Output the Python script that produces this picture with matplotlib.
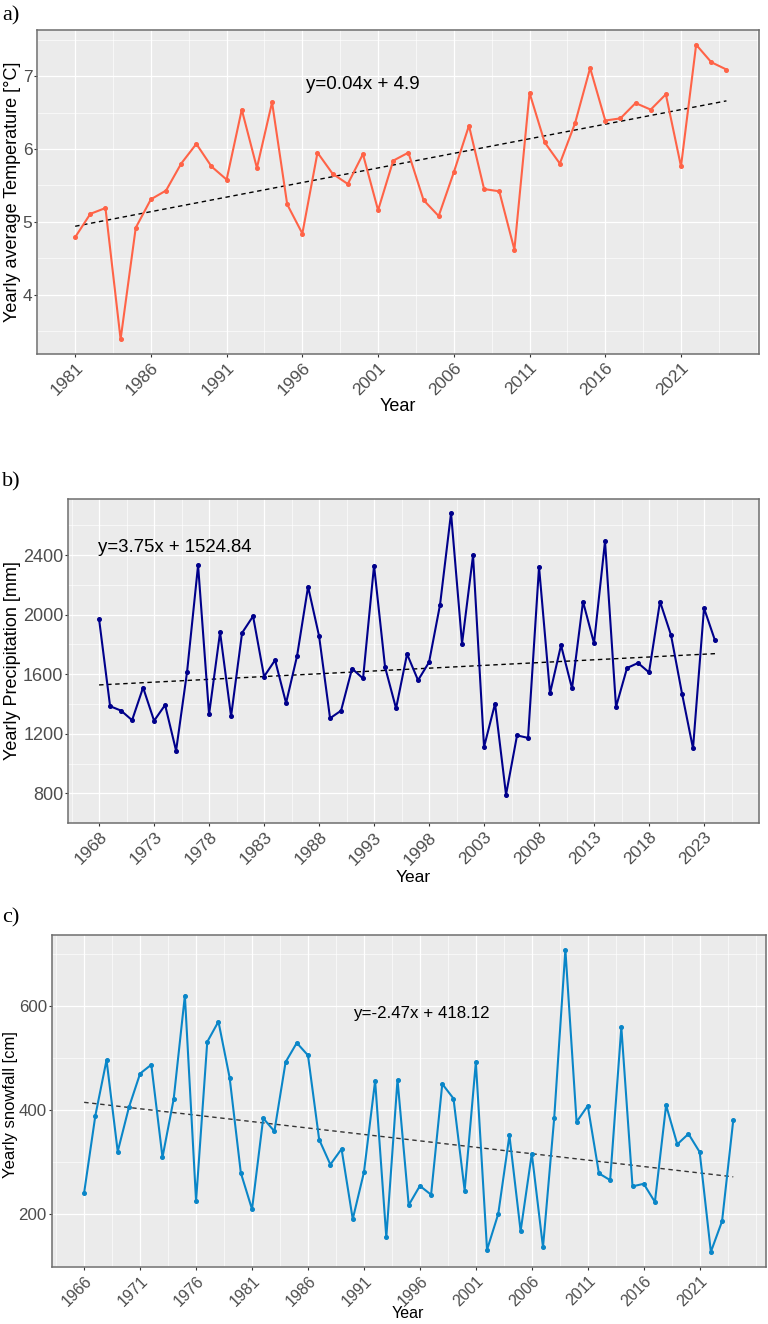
import matplotlib
matplotlib.use("Agg")
import matplotlib.pyplot as plt
import numpy as np

# ---------------- data ----------------
temp_years = list(range(1981, 2025))
temp_values = [4.79, 5.11, 5.19, 3.39, 4.92, 5.31, 5.43, 5.80, 6.07, 5.76,
               5.58, 6.54, 5.74, 6.64, 5.24, 4.84, 5.95, 5.66, 5.52, 5.93,
               5.16, 5.84, 5.95, 5.30, 5.08, 5.68, 6.32, 5.45, 5.42, 4.62,
               6.77, 6.09, 5.80, 6.35, 7.11, 6.39, 6.42, 6.63, 6.54, 6.75,
               5.76, 7.43, 7.19, 7.09]
temp_slope, temp_intercept = 0.04, 4.9
temp_ticks = [1981, 1986, 1991, 1996, 2001, 2006, 2011, 2016, 2021]

prec_years = list(range(1968, 2025))
prec_values = [1969, 1386, 1356, 1292, 1511, 1288, 1394, 1087, 1617, 2332,
               1331, 1882, 1318, 1878, 1990, 1585, 1695, 1407, 1723, 2188,
               1857, 1305, 1356, 1638, 1572, 2330, 1649, 1371, 1736, 1560,
               1681, 2067, 2682, 1806, 2398, 1112, 1403, 792, 1190, 1173,
               2321, 1473, 1795, 1505, 2088, 1808, 2493, 1381, 1642, 1676,
               1613, 2088, 1863, 1471, 1103, 2044, 1827]
prec_slope, prec_intercept = 3.75, 1524.84
prec_ticks = [1968, 1973, 1978, 1983, 1988, 1993, 1998, 2003, 2008, 2013, 2018, 2023]

snow_years = list(range(1966, 2025))
snow_values = [242, 390, 497, 321, 406, 471, 488, 310, 422, 621,
               226, 532, 571, 463, 280, 210, 385, 360, 493, 530,
               506, 344, 296, 326, 191, 281, 457, 156, 459, 218,
               255, 238, 451, 423, 246, 493, 132, 201, 352, 168,
               317, 137, 385, 709, 378, 409, 279, 266, 560, 254,
               259, 224, 410, 335, 355, 320, 128, 187, 381]
snow_slope, snow_intercept = -2.47, 418.12
snow_ticks = [1966, 1971, 1976, 1981, 1986, 1991, 1996, 2001, 2006, 2011, 2016, 2021]

# ---------------- style ----------------
W, H = 768, 1324
DPI = 100
SANS = ["Liberation Sans", "DejaVu Sans"]
SERIF = ["Liberation Serif", "DejaVu Serif"]

fig = plt.figure(figsize=(W / DPI, H / DPI), dpi=DPI)
fig.patch.set_facecolor("white")


def px_axes(left, top, right, bottom):
    return fig.add_axes([left / W, 1 - bottom / H, (right - left) / W, (bottom - top) / H])


def style_axes(ax, years, values, xticks, yticks, color, slope, intercept,
               eq_text, eq_xy, eq_fs, trend_color, xtick_fs, ytick_fs):
    ax.set_facecolor("#EBEBEB")
    # ggplot-like expansion (5%)
    x0, x1 = min(years), max(years)
    dx = (x1 - x0) * 0.05
    ax.set_xlim(x0 - dx, x1 + dx)
    y0, y1 = min(values), max(values)
    dy = (y1 - y0) * 0.05
    ax.set_ylim(y0 - dy, y1 + dy)

    ax.set_xticks(xticks)
    step = xticks[1] - xticks[0]
    xminor = [t - step / 2 for t in xticks] + [xticks[-1] + step / 2, xticks[-1] + step]
    ax.set_xticks(xminor, minor=True)
    ax.set_yticks(yticks)
    ystep = yticks[1] - yticks[0]
    yminor = [yticks[0] - ystep / 2] + [t + ystep / 2 for t in yticks]
    ax.set_yticks(yminor, minor=True)
    ax.set_xticklabels([str(t) for t in xticks], rotation=45, ha="right",
                       rotation_mode="anchor", fontsize=xtick_fs, color="#4D4D4D",
                       family=SANS)
    ax.set_yticklabels([str(t) for t in yticks], fontsize=ytick_fs, color="#4D4D4D",
                       family=SANS)
    ax.tick_params(axis="both", which="major", length=2.5, width=0.8,
                   color="#333333", pad=1)
    ax.tick_params(axis="x", which="major", pad=2)
    ax.tick_params(axis="both", which="minor", length=0)

    ax.grid(True, which="major", color="white", linewidth=0.9)
    ax.grid(True, which="minor", color="white", linewidth=0.45)
    ax.set_axisbelow(True)
    for sp in ax.spines.values():
        sp.set_color("#6E6E6E")
        sp.set_linewidth(1.1)

    idx = np.arange(1, len(years) + 1)
    trend = slope * idx + intercept
    ax.plot(years, trend, linestyle=(0, (3.2, 2.6)), color=trend_color,
            linewidth=1.0, zorder=2)
    ax.plot(years, values, color=color, linewidth=1.5, marker="o",
            markersize=2.6, zorder=3)
    ax.text(eq_xy[0], eq_xy[1], eq_text, ha="center", va="center",
            fontsize=eq_fs, color="black", family=SANS)


# panel a
ax_a = px_axes(37.3, 30, 759, 354)
style_axes(ax_a, temp_years, temp_values, temp_ticks, [4, 5, 6, 7],
           "#FF6347", temp_slope, temp_intercept, "y=0.04x + 4.9", (2000, 6.89), 13.5,
           "black", 12.5, 12.5)
fig.text(398 / W, 1 - 406 / H, "Year", ha="center", va="center", fontsize=13,
         family=SANS)
fig.text(13 / W, 1 - 192 / H, "Yearly average Temperature [°C]", rotation=90,
         ha="center", va="center", fontsize=13, family=SANS)
fig.text(2 / W, 1 - 16 / H, "a)", ha="left", va="center", fontsize=16, family=SERIF)

# panel b
ax_b = px_axes(68.3, 499, 759, 823.3)
style_axes(ax_b, prec_years, prec_values, prec_ticks, [800, 1200, 1600, 2000, 2400],
           "#00008B", prec_slope, prec_intercept, "y=3.75x + 1524.84", (1974.9, 2450), 13.4,
           "black", 12.5, 13)
fig.text(413 / W, 1 - 877 / H, "Year", ha="center", va="center", fontsize=12.5,
         family=SANS)
fig.text(12.5 / W, 1 - 661 / H, "Yearly Precipitation [mm]", rotation=90,
         ha="center", va="center", fontsize=13, family=SANS)
fig.text(2 / W, 1 - 482 / H, "b)", ha="left", va="center", fontsize=16, family=SERIF)

# panel c
ax_c = px_axes(51.7, 934.7, 765.7, 1267)
style_axes(ax_c, snow_years, snow_values, snow_ticks, [200, 400, 600],
           "#0A86C8", snow_slope, snow_intercept, "y=-2.47x + 418.12", (1996.1, 587), 12.2,
           "#333333", 11.5, 12.2)
fig.text(408 / W, 1 - 1314 / H, "Year", ha="center", va="center", fontsize=11.5,
         family=SANS)
fig.text(10.5 / W, 1 - 1105 / H, "Yearly snowfall [cm]", rotation=90,
         ha="center", va="center", fontsize=12, family=SANS)
fig.text(2 / W, 1 - 918 / H, "c)", ha="left", va="center", fontsize=16, family=SERIF)

fig.savefig("out.png", dpi=DPI, facecolor="white")
